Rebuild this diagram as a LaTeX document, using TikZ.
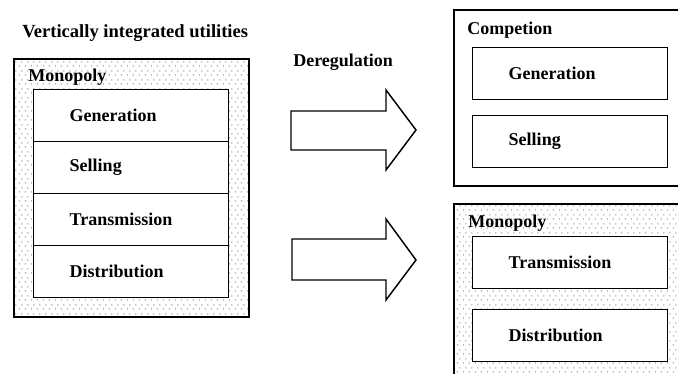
\documentclass[tikz,border=0pt]{standalone}
\usepackage{fontspec}
\setmainfont{Liberation Serif}
\usetikzlibrary{patterns.meta}
\newlength\pxu
\setlength\pxu{0.75pt}
% staggered grey stipple for the regulated areas
\pgfdeclarepattern{
  name=stagdots,
  type=uncolored,
  bottom left={\pgfpoint{0pt}{0pt}},
  top right={\pgfpoint{4.5pt}{6.75pt}},
  tile size={\pgfpoint{4.5pt}{6.75pt}},
  code={
    \pgfpathcircle{\pgfpoint{1.125pt}{1.69pt}}{0.62pt}
    \pgfpathcircle{\pgfpoint{3.375pt}{5.06pt}}{0.62pt}
    \pgfusepath{fill}
  }
}
\begin{document}
\begin{tikzpicture}[x=0.75pt,y=-0.75pt,
  lbl/.style={font=\bfseries\fontsize{13.5}{16}\selectfont, inner sep=0pt, anchor=base west},
  dotted area/.style={draw=black, line width=1.3pt, pattern=stagdots, pattern color=gray!90,
    inner sep=0pt, anchor=north west},
  plain area/.style={draw=black, line width=1.2pt, fill=white, inner sep=0pt, anchor=north west},
  cell/.style={draw=black, line width=1.1pt, fill=white, anchor=north west,
    font=\bfseries\fontsize{13.5}{16}\selectfont,
    text width=123\pxu, inner xsep=36\pxu, inner ysep=0pt, align=left,
    minimum height=52\pxu},
  blockarrow/.style={draw=black, line width=1.1pt, fill=white, line join=miter}
]
\useasboundingbox (0,0) rectangle (678,374);
\clip (0,0) rectangle (678,374);

% before: one vertically integrated utility
\node[lbl, font=\bfseries\fontsize{13.9}{16}\selectfont] (title) at (22,38) {Vertically integrated utilities};
\node[dotted area, minimum width=235\pxu, minimum height=258\pxu] (mono) at (13,58) {};
\node[lbl] (monolbl) at (28,82) {Monopoly};
\node[cell] (gen)   at (33,89)  {Generation};
\node[cell] (sell)  at (33,141) {Selling};
\node[cell] (trans) at (33,193) {Transmission};
\node[cell] (dist)  at (33,245) {Distribution};

% deregulation arrows
\node[lbl] (dereg) at (293,67) {Deregulation};
\draw[blockarrow] (291,111) -- (386,111) -- (386,90) -- (416,130) -- (386,170)
  -- (386,150) -- (291,150) -- cycle;
\draw[blockarrow] (292,239) -- (386,239) -- (386,219) -- (416,260) -- (386,300)
  -- (386,280) -- (292,280) -- cycle;

% after: competitive part
\node[plain area, minimum width=240\pxu, minimum height=176\pxu] (comp) at (453,9) {};
\node[lbl] (complbl) at (467,35) {Competion};
\node[cell] (gen2)  at (472,47)  {Generation};
\node[cell] (sell2) at (472,115) {Selling};

% after: regulated network part
\node[dotted area, minimum width=240\pxu, minimum height=185\pxu] (mono2) at (453,203) {};
\node[lbl] (mono2lbl) at (468,227) {Monopoly};
\node[cell] (trans2) at (472,236) {Transmission};
\node[cell] (dist2)  at (472,309) {Distribution};
\end{tikzpicture}
\end{document}
